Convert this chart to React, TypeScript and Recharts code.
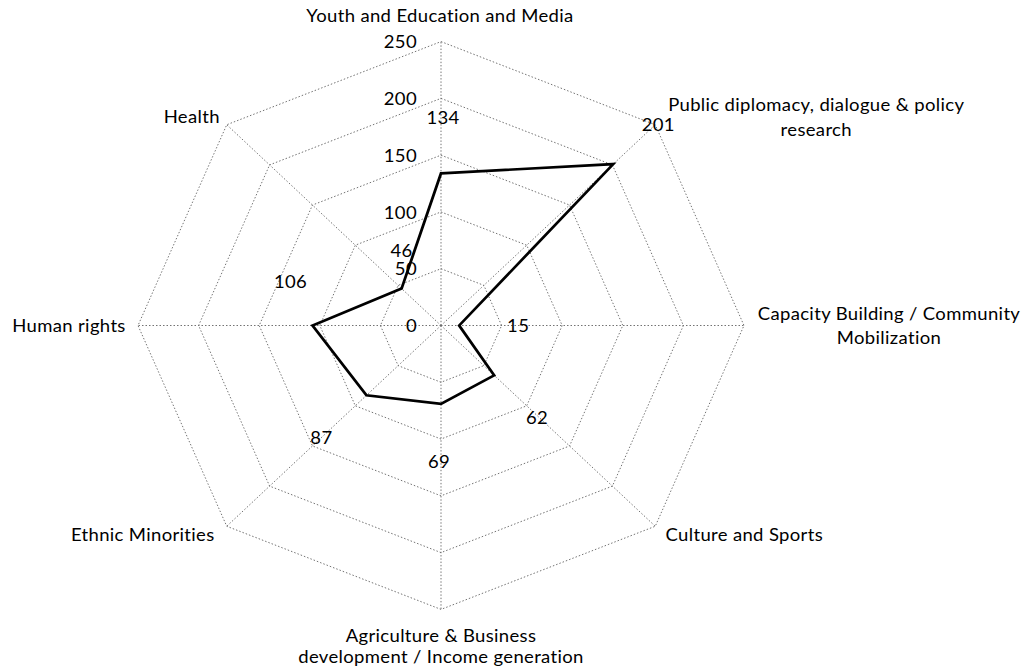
import { LabelList, PolarAngleAxis, PolarGrid, PolarRadiusAxis, Radar, RadarChart } from 'recharts'

// sector names (one entry per line of the axis caption) and project counts
const sectors = [
  ['Youth and Education and Media'],
  ['Public diplomacy, dialogue & policy', 'research'],
  ['Capacity Building / Community', 'Mobilization'],
  ['Culture and Sports'],
  ['Agriculture & Business', 'development / Income generation'],
  ['Ethnic Minorities'],
  ['Human rights'],
  ['Health'],
]
const counts = [134, 201, 15, 62, 69, 87, 106, 46]
const scaleTicks = [0, 50, 100, 150, 200, 250]

const W = 1033
const SY = 0.937 // the plot is slightly flattened vertically
const H = Math.round(668 / SY)
const CX = 441
const CY = 325.5 / SY
const R = 303
const FONT = 'Lato, "Open Sans", sans-serif'
const FONT_SIZE = 18.5
const TRACKING = 0.35

// caption placement relative to each outer vertex: [dx, dy of every line]
const captionOffsets: [number, number[]][] = [
  [-1, [-27.7]],
  [161, [-21.8, 4.9]],
  [145, [-13.3, 12.3]],
  [89, [9]],
  [0, [28, 50.5]],
  [-84, [9]],
  [-69, [0]],
  [-35, [-8.9]],
]

// value label nudges relative to each point
const labelOffsets = [
  [2, -59.8],
  [45, -42.7],
  [59, 0],
  [43, 44.8],
  [-2, 60.8],
  [-45, 44.8],
  [-22, -47.5],
  [0, -40.6],
]

const rows = sectors.map((s, i) => ({ name: s.join(' '), value: counts[i] }))

const textStyle = {
  fontFamily: FONT,
  fontSize: FONT_SIZE,
  letterSpacing: TRACKING,
  fill: '#000',
}

function SectorTick(props: any) {
  const i = props.index ?? props.payload?.index ?? 0
  const angle = ((90 - (360 / sectors.length) * i) * Math.PI) / 180
  const vx = CX + R * Math.cos(angle)
  const vy = CY - R * Math.sin(angle)
  const [dx, dys] = captionOffsets[i]
  return (
    <g>
      {sectors[i].map((line, k) => (
        <text
          key={k}
          x={vx + dx}
          y={vy + dys[k]}
          textAnchor="middle"
          dominantBaseline="central"
          style={textStyle}
        >
          {line}
        </text>
      ))}
    </g>
  )
}

function ScaleTick(props: any) {
  const { x, y, payload } = props
  return (
    <text x={x - 24} y={y} textAnchor="end" dominantBaseline="central" style={textStyle}>
      {payload.value}
    </text>
  )
}

function ValueLabel(props: any) {
  const { x, y, value, index } = props
  const [dx, dy] = labelOffsets[index] ?? [0, -40]
  return (
    <text x={x + dx} y={y + dy} textAnchor="middle" dominantBaseline="central" style={textStyle}>
      {value}
    </text>
  )
}

export default function App() {
  return (
    <div
      style={{
        position: 'absolute',
        left: 0,
        top: 0,
        width: W,
        height: 668,
        overflow: 'hidden',
        background: '#fff',
      }}
    >
      <div style={{ width: W, height: H, transform: `scaleY(${SY})`, transformOrigin: '0 0' }}>
        <RadarChart
          width={W}
          height={H}
          data={rows}
          cx={CX}
          cy={CY}
          outerRadius={R}
          margin={{ top: 0, right: 0, bottom: 0, left: 0 }}
        >
          <PolarGrid gridType="polygon" stroke="#6e6e6e" strokeDasharray="1.5 2" />
          <PolarAngleAxis dataKey="name" tick={<SectorTick />} tickLine={false} axisLine={false} />
          <PolarRadiusAxis
            angle={90}
            domain={[0, 250]}
            ticks={scaleTicks as any}
            tickCount={6}
            axisLine={false}
            tickLine={false}
            tick={<ScaleTick />}
          />
          <Radar
            dataKey="value"
            stroke="#000"
            strokeWidth={2.8}
            fill="none"
            fillOpacity={0}
            dot={false}
            isAnimationActive={false}
          >
            <LabelList dataKey="value" content={<ValueLabel />} />
          </Radar>
        </RadarChart>
      </div>
    </div>
  )
}
